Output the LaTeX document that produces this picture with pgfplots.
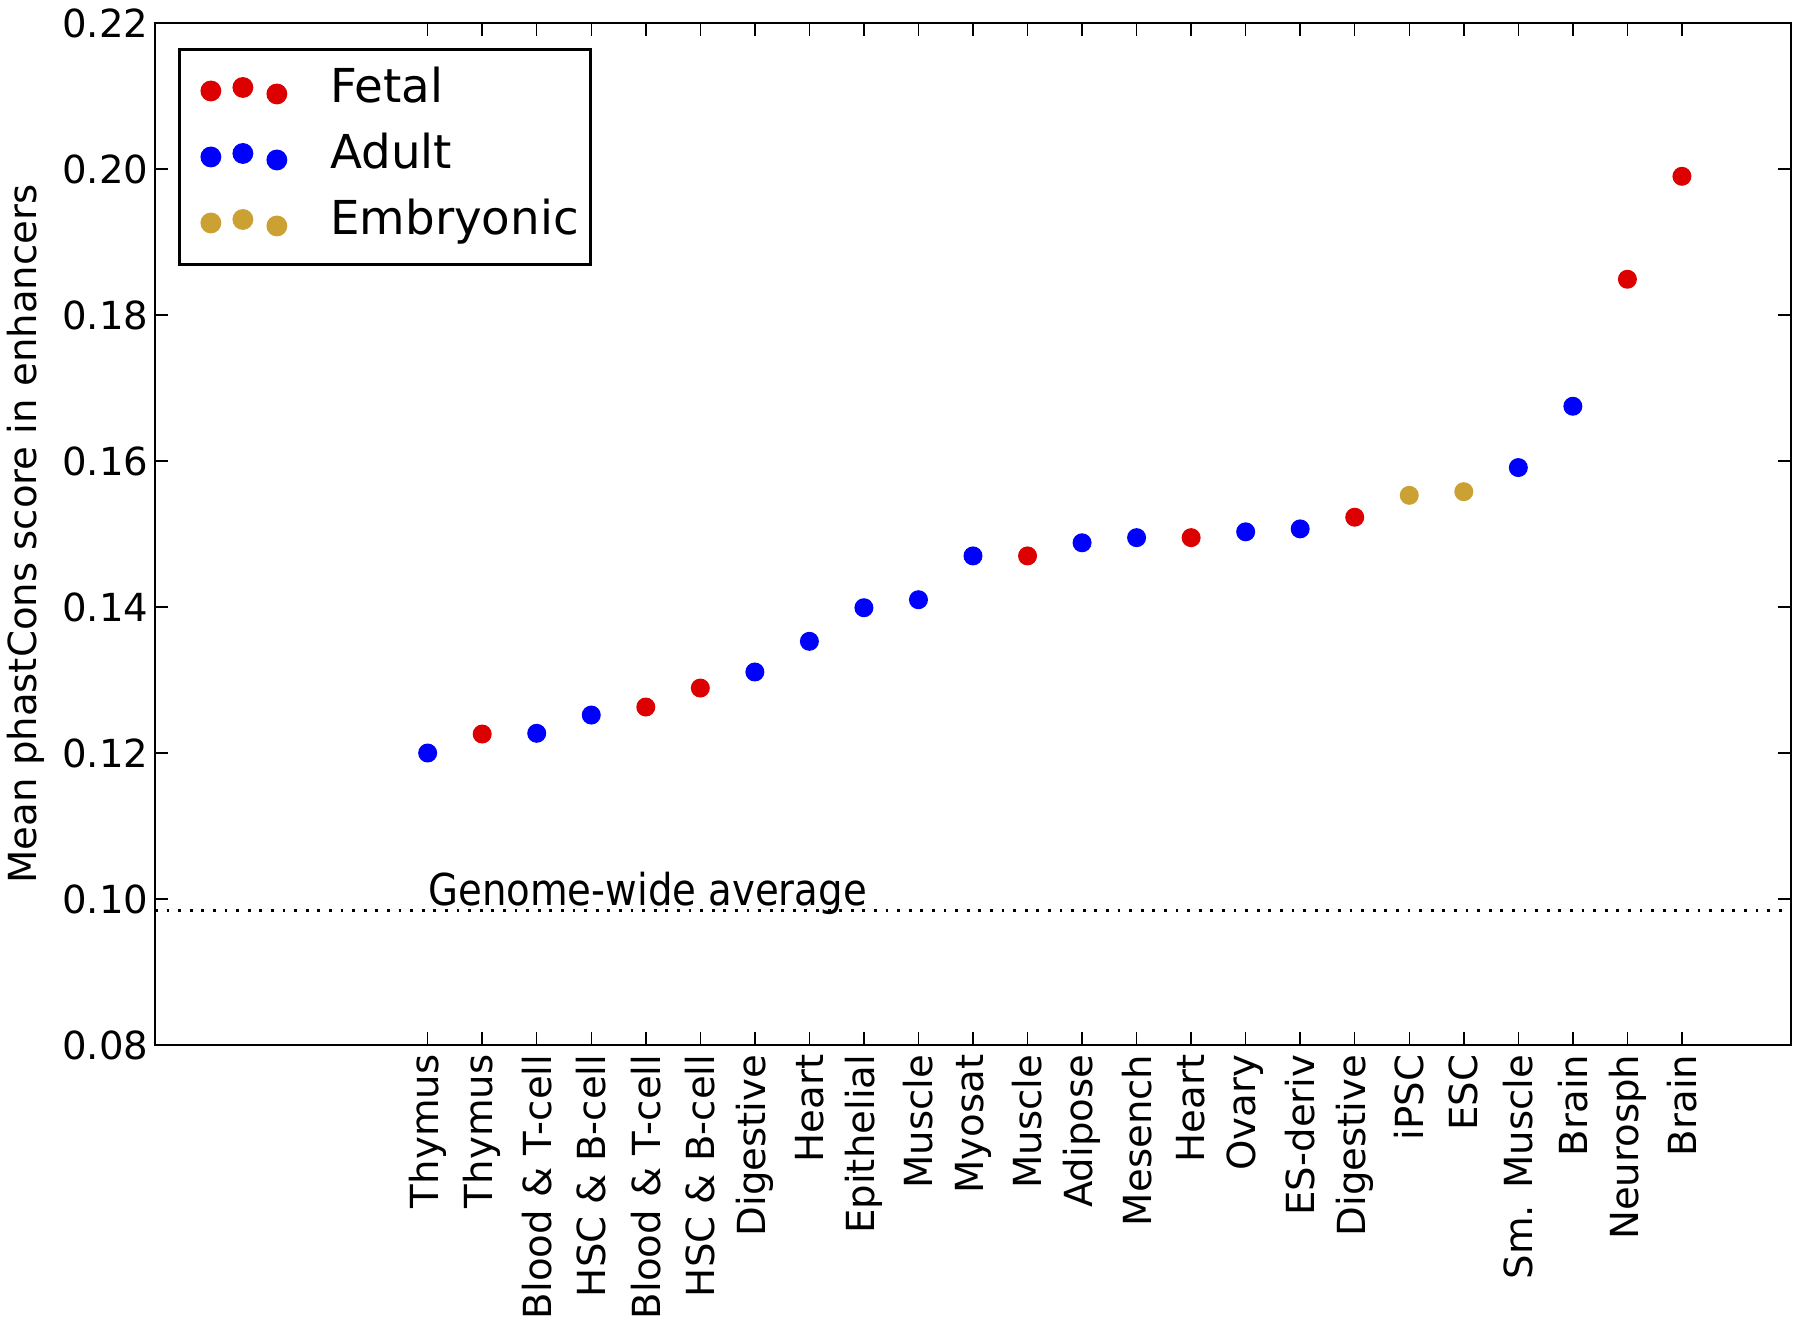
\documentclass[border=0pt]{standalone}
\usepackage{pgfplots}
\pgfplotsset{compat=1.18}
\usepackage{fontspec}
\setmainfont{DejaVu Sans}
\definecolor{fetal}{RGB}{221,0,0}
\definecolor{adult}{RGB}{0,0,255}
\definecolor{embryo}{RGB}{204,161,51}

\begin{document}
\begin{tikzpicture}
\begin{axis}[name=ax, scale only axis, width=163.6mm, height=102.2mm,
 xmin=-5, xmax=25, ymin=0.08, ymax=0.22,
 xtick={0,...,23},
 xticklabels={Thymus,Thymus,Blood \& T-cell,HSC \& B-cell,Blood \& T-cell,HSC \& B-cell,Digestive,Heart,Epithelial,Muscle,Myosat,Muscle,Adipose,Mesench,Heart,Ovary,ES-deriv,Digestive,iPSC,ESC,Sm. Muscle,Brain,Neurosph,Brain},
 ytick={0.08,0.10,0.12,0.14,0.16,0.18,0.20,0.22},
 scaled y ticks=false,
 yticklabel style={/pgf/number format/fixed, /pgf/number format/fixed zerofill, /pgf/number format/precision=2, /pgf/number format/assume math mode=true, font=\fontsize{11}{13}\selectfont, inner sep=0pt},
 yticklabel shift=0.6mm,
 xticklabel style={rotate=90, anchor=east, inner sep=0pt, font=\fontsize{11}{13}\selectfont},
 xticklabel shift=0.9mm,
 tick align=inside, major tick length=1.3mm,
 every tick/.style={black, line width=0.4pt},
 axis line style={line width=0.8pt},
 ylabel={Mean phastCons score in enhancers},
 ylabel style={at={(axis description cs:-0.0911,0.5)}, anchor=north, inner sep=0pt, font=\fontsize{11}{13}\selectfont},
 legend cell align=left,
 legend style={at={(axis description cs:0.0141,0.9755)}, anchor=north west, draw=black, line width=0.8pt,
   font=\fontsize{13.3}{15}\selectfont, inner xsep=1.2mm, inner ysep=1.85mm, row sep=2mm, column sep=4.3mm,
   nodes={inner sep=0pt, text height=3.5mm, text depth=1.1mm}},
]
\addplot[black, line width=0.8pt, dash pattern=on 0.8pt off 2.5pt, forget plot] coordinates {(-5,0.0984) (25,0.0984)};

\addplot[only marks, mark=*, mark size=2.5pt, color=fetal,
  legend image code/.code={\path (-1.8mm,0mm); \fill[fetal] (0mm,0mm) circle (0.9mm); \fill[fetal] (3.2mm,0.35mm) circle (0.9mm); \fill[fetal] (6.6mm,-0.3mm) circle (0.9mm);}]
 coordinates {(1,0.1226) (4,0.1263) (5,0.1289) (11,0.1470) (14,0.1495) (17,0.1523) (22,0.1849) (23,0.1990)};
\addlegendentry{Fetal}

\addplot[only marks, mark=*, mark size=2.5pt, color=adult,
  legend image code/.code={\path (-1.8mm,0mm); \fill[adult] (0mm,0mm) circle (0.9mm); \fill[adult] (3.2mm,0.35mm) circle (0.9mm); \fill[adult] (6.6mm,-0.3mm) circle (0.9mm);}]
 coordinates {(0,0.1200) (2,0.1227) (3,0.1252) (6,0.1311) (7,0.1353) (8,0.1399) (9,0.1410) (10,0.1470) (12,0.1488) (13,0.1495) (15,0.1503) (16,0.1507) (20,0.1591) (21,0.1675)};
\addlegendentry{Adult}

\addplot[only marks, mark=*, mark size=2.5pt, color=embryo,
  legend image code/.code={\path (-1.8mm,0mm); \fill[embryo] (0mm,0mm) circle (0.9mm); \fill[embryo] (3.2mm,0.35mm) circle (0.9mm); \fill[embryo] (6.6mm,-0.3mm) circle (0.9mm);}]
 coordinates {(18,0.1553) (19,0.1558)};
\addlegendentry{Embryonic}

\node[anchor=base west, inner sep=0pt, font=\fontsize{12.5}{14}\selectfont] at (axis cs:0,0.0984) [yshift=0.5mm] {\scalebox{0.88}[1]{Genome-wide average}};
\end{axis}
\pgfresetboundingbox
\path (ax.south west) ++(-15.5mm,-27.9mm) rectangle ++(180mm,132.4mm);
\end{tikzpicture}
\end{document}
